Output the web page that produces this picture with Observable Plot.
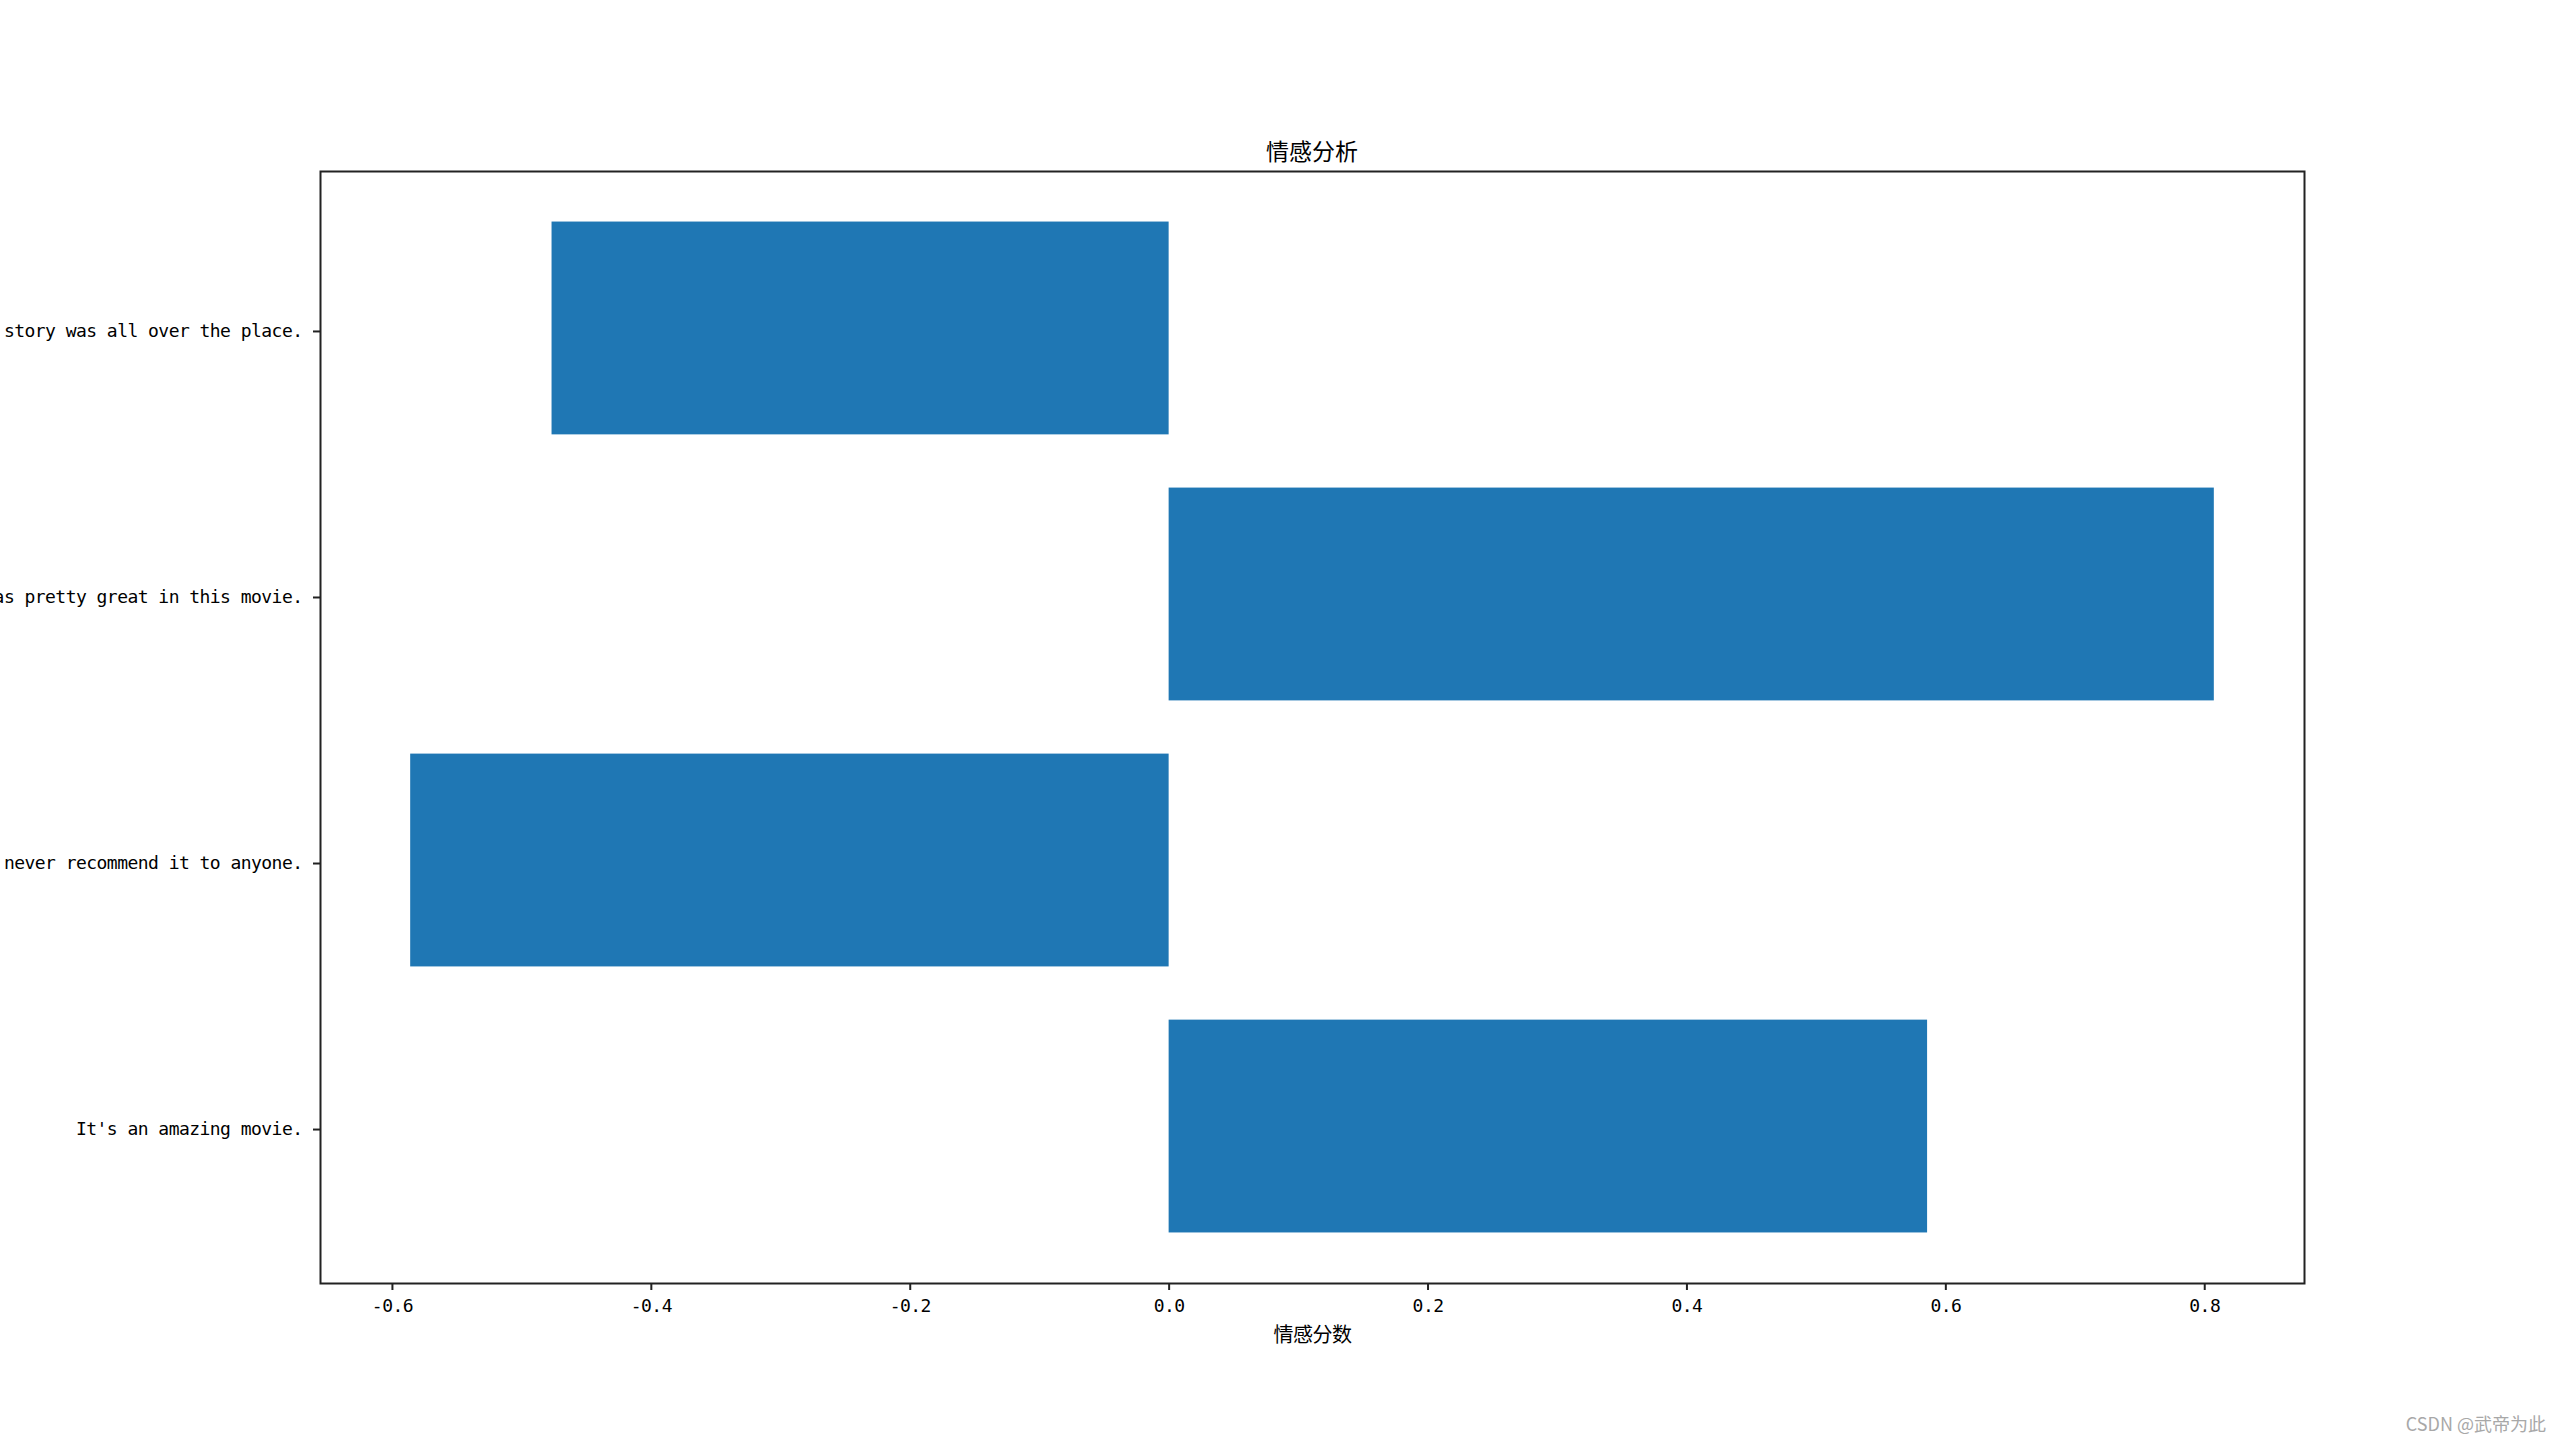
<!DOCTYPE html>
<html>
<head>
<meta charset="utf-8">
<script src="https://cdn.jsdelivr.net/npm/d3@7"></script>
<script src="https://cdn.jsdelivr.net/npm/@observablehq/plot@0.6"></script>
<style>
  html, body { margin: 0; padding: 0; background: #fff; }
  #wrap { position: relative; width: 2560px; height: 1443px; overflow: hidden; background: #fff; }
  #title { position: absolute; left: 320px; width: 1984px; top: 134px; text-align: center;
           font-family: "Noto Sans CJK SC", sans-serif; font-size: 23px; line-height: 32px; color: #000; }
  #chart { position: absolute; left: 0; top: 0; }
  #mark { position: absolute; right: 14px; top: 1411px; font-family: "Noto Sans CJK SC", sans-serif;
          font-size: 18px; color: #a8a8a8; line-height: 24px; }
</style>
</head>
<body>
<div id="wrap">
  <div id="chart"></div>
  <div id="title"></div>
  <div id="mark"></div>
</div>
<script>
// ---- data ----
const sentences = [
  "It's an amazing movie.",
  "I would never recommend it to anyone.",
  "The acting was pretty great in this movie.",
  "The story was all over the place."
];
const scores = [0.5859, -0.5859, 0.8074, -0.4767];
const xTicks = [-0.6, -0.4, -0.2, 0.0, 0.2, 0.4, 0.6, 0.8];
const titleText = "情感分析";
const xLabelText = "情感分数";
const watermarkText = "CSDN @武帝为此";

const data = sentences.map((s, i) => ({sentence: s, score: scores[i]}));
// matplotlib-style 5% auto margins
const lo = Math.min(0, d3.min(scores)), hi = Math.max(0, d3.max(scores));
const pad = (hi - lo) * 0.05;

document.getElementById("title").textContent = titleText;
document.getElementById("mark").textContent = watermarkText;

const chart = Plot.plot({
  width: 2560,
  height: 1443,
  marginTop: 171,
  marginBottom: 160,
  marginLeft: 320,
  marginRight: 256,
  style: {fontFamily: "'DejaVu Sans Mono', 'Liberation Mono', monospace", fontSize: "18px", letterSpacing: "-0.54px", color: "#000", background: "#fff"},
  x: {domain: [lo - pad, hi + pad]},
  y: {domain: sentences.slice().reverse(), paddingInner: 0.2, paddingOuter: 0.19, round: false},
  marks: [
    Plot.barX(data, {x1: 0, x2: "score", y: "sentence", fill: "#1f77b4"}),
    Plot.frame({stroke: "#222", strokeWidth: 2}),
    Plot.axisX({ticks: xTicks, tickFormat: d => d.toFixed(1), tickSize: 7, tickPadding: 9, strokeWidth: 2, stroke: "#222", label: null, fill: "#000"}),
    Plot.axisY({tickSize: 7, tickPadding: 11, strokeWidth: 2, stroke: "#222", label: null, fill: "#000", dy: 3}),
    Plot.text([xLabelText], {frameAnchor: "bottom", dy: 52, text: d => d, fontFamily: "'Noto Sans CJK SC', sans-serif", fontSize: 20, fill: "#000", lineAnchor: "middle"})
  ]
});
document.getElementById("chart").appendChild(chart);
</script>
</body>
</html>
